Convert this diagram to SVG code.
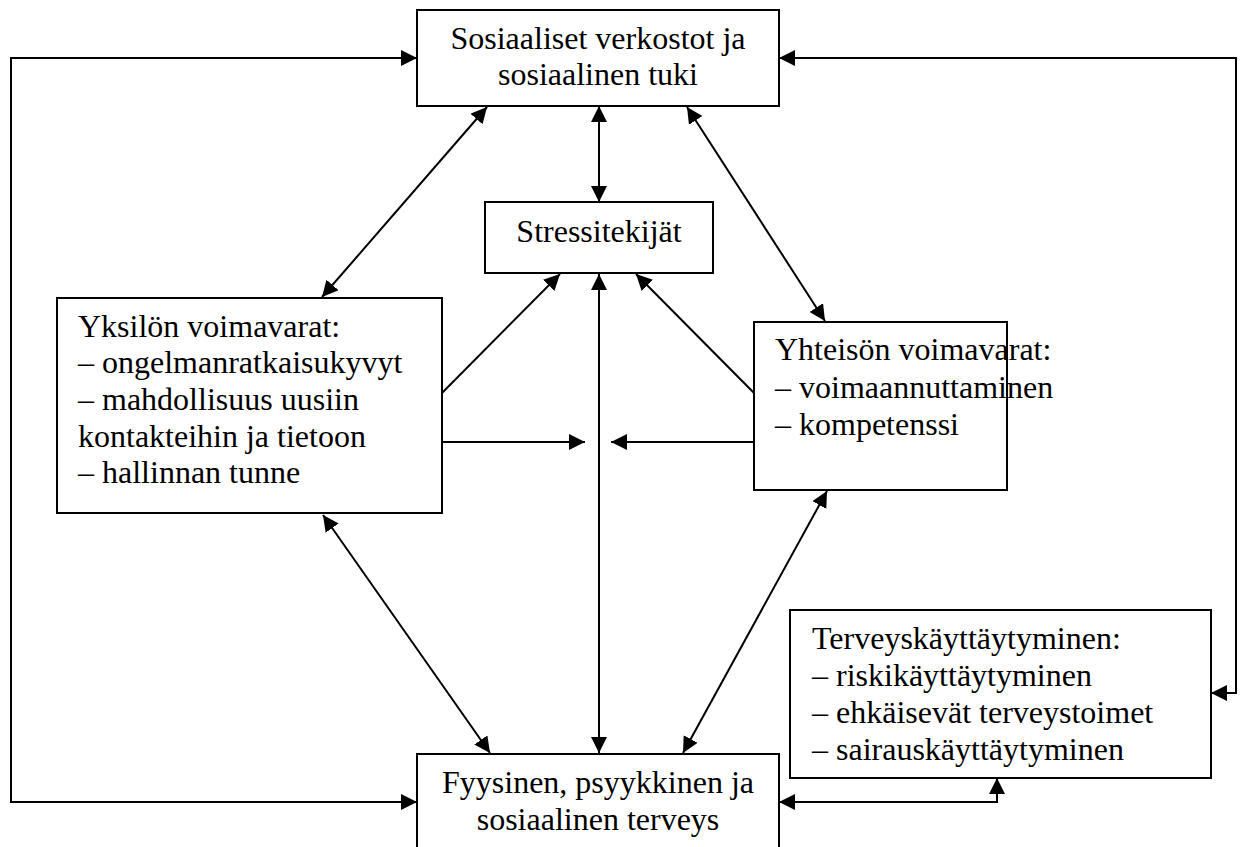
<svg xmlns="http://www.w3.org/2000/svg" width="1242" height="847" viewBox="0 0 1242 847">
<style>
.box{fill:#fff;stroke:#000;stroke-width:2}
.t{font-family:"Liberation Serif","Times New Roman",serif;font-size:32px;fill:#000}
.c{text-anchor:middle}
.ln{fill:none;stroke:#000;stroke-width:2}
.a2{marker-start:url(#ah);marker-end:url(#ah)}
.a1{marker-end:url(#ah)}
</style>
<defs>
<marker id="ah" markerUnits="userSpaceOnUse" markerWidth="17" markerHeight="17" refX="16" refY="8" orient="auto-start-reverse">
<path d="M0,0 L16,8 L0,16 z" fill="#000"/>
</marker>
</defs>
<rect width="1242" height="847" fill="#fff"/>
<g id="connectors">
<path class="ln a2" d="M417,58 H11 V802 H417"/>
<path class="ln a2" d="M779,58 H1236 V693 H1211"/>
<path class="ln a2" d="M779,802 H997 V778"/>
<line class="ln a2" x1="599" y1="106" x2="599" y2="202"/>
<line class="ln a2" x1="487" y1="107" x2="322" y2="297"/>
<line class="ln a2" x1="687" y1="107" x2="825" y2="321"/>
<line class="ln a1" x1="442" y1="393" x2="560" y2="274"/>
<line class="ln a1" x1="754" y1="393" x2="636" y2="274"/>
<line class="ln a2" x1="599" y1="274" x2="599" y2="753"/>
<line class="ln a1" x1="442" y1="442" x2="585" y2="442"/>
<line class="ln a1" x1="754" y1="442" x2="611" y2="442"/>
<line class="ln a2" x1="323" y1="515" x2="490" y2="753"/>
<line class="ln a2" x1="827" y1="491" x2="683" y2="753"/>
</g>
<g id="n-social">
<rect class="box" x="417" y="10" width="362" height="96"/>
<text class="t c" x="598" y="49">Sosiaaliset verkostot ja</text>
<text class="t c" x="598" y="85">sosiaalinen tuki</text>
</g>
<g id="n-stress">
<rect class="box" x="485" y="202" width="228" height="71"/>
<text class="t c" x="599" y="242">Stressitekijät</text>
</g>
<g id="n-yksilo">
<rect class="box" x="57" y="298" width="385" height="215"/>
<text class="t" x="78" y="337">Yksilön voimavarat:</text>
<text class="t" x="78" y="373">– ongelmanratkaisukyvyt</text>
<text class="t" x="78" y="410">– mahdollisuus uusiin</text>
<text class="t" x="78" y="447">kontakteihin ja tietoon</text>
<text class="t" x="78" y="483">– hallinnan tunne</text>
</g>
<g id="n-yhteiso">
<rect class="box" x="754" y="322" width="253" height="168"/>
<text class="t" x="775" y="360">Yhteisön voimavarat:</text>
<text class="t" x="775" y="398">– voimaannuttaminen</text>
<text class="t" x="775" y="435">– kompetenssi</text>
</g>
<g id="n-terveyskayttaytyminen">
<rect class="box" x="790" y="610" width="421" height="168"/>
<text class="t" x="812" y="649">Terveyskäyttäytyminen:</text>
<text class="t" x="812" y="686">– riskikäyttäytyminen</text>
<text class="t" x="812" y="723">– ehkäisevät terveystoimet</text>
<text class="t" x="812" y="760">– sairauskäyttäytyminen</text>
</g>
<g id="n-terveys">
<rect class="box" x="417" y="754" width="362" height="110"/>
<text class="t c" x="598" y="793">Fyysinen, psyykkinen ja</text>
<text class="t c" x="598" y="830">sosiaalinen terveys</text>
</g>
</svg>
